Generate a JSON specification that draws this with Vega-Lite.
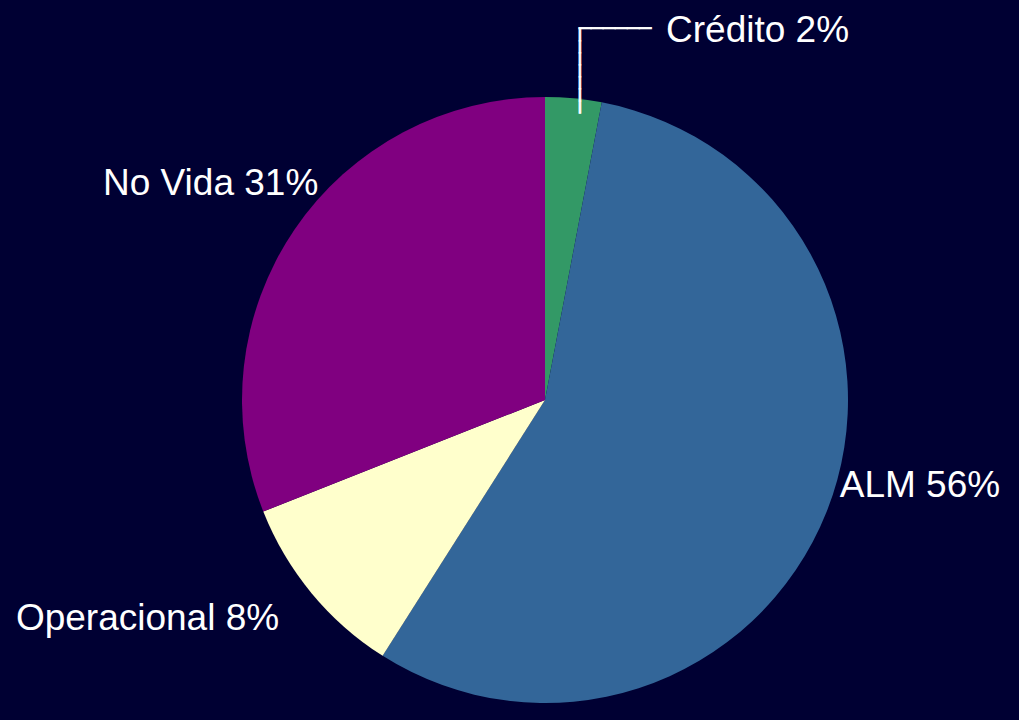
{
  "$schema": "https://vega.github.io/schema/vega-lite/v6.json",
  "width": 948,
  "height": 640,
  "autosize": "none",
  "padding": {"left": 71, "top": 80, "right": 0, "bottom": 0},
  "background": "#000033",
  "config": {"view": {"stroke": null}, "text": {"font": "Liberation Sans"}},
  "data": {"values": [
    {"idx": 1, "cat": "Crédito", "value": 3, "label": "Crédito 2%"},
    {"idx": 2, "cat": "ALM", "value": 56, "label": "ALM 56%"},
    {"idx": 3, "cat": "Operacional", "value": 10, "label": "Operacional 8%"},
    {"idx": 4, "cat": "No Vida", "value": 31, "label": "No Vida 31%"}
  ]},
  "encoding": {
    "theta": {"field": "value", "type": "quantitative", "stack": true},
    "order": {"field": "idx", "type": "quantitative"}
  },
  "layer": [
    {
      "mark": {"type": "arc", "outerRadius": 303},
      "encoding": {
        "color": {"field": "cat", "type": "nominal", "legend": null,
          "scale": {"domain": ["Crédito", "ALM", "Operacional", "No Vida"],
                    "range": ["#339966", "#336699", "#FFFFCC", "#800080"]}}
      }
    },
    {
      "mark": {"type": "text", "radius": 317, "align": "left", "baseline": "alphabetic", "dy": -20, "fontSize": 37, "color": "white"},
      "encoding": {"detail": {"field": "cat"},
        "text": {"condition": {"test": "datum.cat === 'ALM'", "field": "label"}, "value": ""}}
    },
    {
      "mark": {"type": "text", "radius": 345, "align": "right", "baseline": "alphabetic", "dy": 10, "fontSize": 37, "color": "white"},
      "encoding": {"detail": {"field": "cat"},
        "text": {"condition": {"test": "datum.cat === 'Operacional'", "field": "label"}, "value": ""}}
    },
    {
      "mark": {"type": "text", "radius": 320, "align": "right", "baseline": "alphabetic", "dx": 38, "dy": -25, "fontSize": 37, "color": "white"},
      "encoding": {"detail": {"field": "cat"},
        "text": {"condition": {"test": "datum.cat === 'No Vida'", "field": "label"}, "value": ""}}
    },
    {
      "mark": {"type": "text", "radius": 372, "align": "left", "baseline": "alphabetic", "dx": 86, "dy": 12, "fontSize": 37, "color": "white"},
      "encoding": {"detail": {"field": "cat"},
        "text": {"condition": {"test": "datum.cat === 'Crédito'", "field": "label"}, "value": ""}}
    },
    {
      "mark": {"type": "text", "radius": 372, "align": "left", "baseline": "middle", "dx": -1, "dy": -1, "fontSize": 20, "font": "DejaVu Sans Mono", "color": "white", "stroke": "white", "strokeWidth": 0.8},
      "encoding": {"detail": {"field": "cat"},
        "text": {"condition": {"test": "datum.cat === 'Crédito'", "value": "──────"}, "value": ""}}
    },
    {
      "mark": {"type": "text", "radius": 372, "align": "left", "baseline": "middle", "angle": 90, "dx": -1, "dy": 1, "fontSize": 20, "font": "DejaVu Sans Mono", "color": "white", "stroke": "white", "strokeWidth": 0.8},
      "encoding": {"detail": {"field": "cat"},
        "text": {"condition": {"test": "datum.cat === 'Crédito'", "value": "───────"}, "value": ""}}
    }
  ]
}
